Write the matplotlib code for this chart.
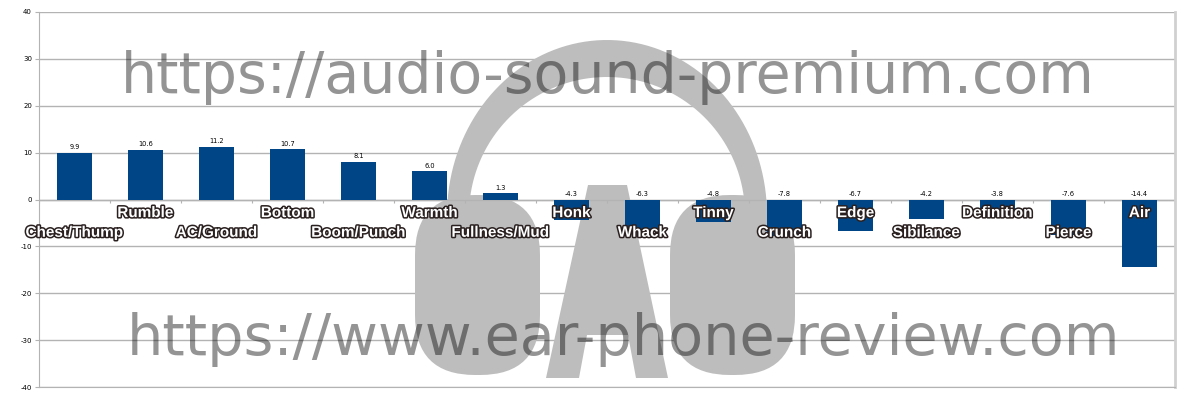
import matplotlib
matplotlib.use("Agg")
import matplotlib.pyplot as plt
import matplotlib.patheffects as pe
from matplotlib.transforms import Affine2D
from matplotlib.patches import PathPatch, FancyBboxPatch
from matplotlib.path import Path
import numpy as np

categories = ["Chest/Thump", "Rumble", "AC/Ground", "Bottom", "Boom/Punch", "Warmth",
              "Fullness/Mud", "Honk", "Whack", "Tinny", "Crunch", "Edge", "Sibilance",
              "Definition", "Pierce", "Air"]
values = [9.9, 10.6, 11.2, 10.7, 8.1, 6.0, 1.3, -4.3, -6.3, -4.8, -7.8, -6.7, -4.2, -3.8, -7.6, -14.4]
yticks = [-40, -30, -20, -10, 0, 10, 20, 30, 40]
watermark_top = "https://audio-sound-premium.com"
watermark_bottom = "https://www.ear-phone-review.com"

W, H = 1200, 400
fig = plt.figure(figsize=(12, 4), dpi=100)
ax = fig.add_axes([39 / W, 13 / H, (1175 - 39) / W, (388 - 13) / H])

x = np.arange(len(categories))
ax.set_xlim(-0.5, len(categories) - 0.5)
ax.set_ylim(-40, 40)
ax.set_yticks(yticks)
ax.set_yticklabels([str(v) for v in yticks], fontsize=5)
ax.tick_params(axis="y", length=3, width=0.8, color="#b3b3b3", pad=2)
ax.set_xticks([])
ax.grid(axis="y", color="#b3b3b3", linewidth=1, zorder=0)
ax.set_axisbelow(True)
ax.spines["top"].set_visible(False)
ax.spines["left"].set_color("#b3b3b3")
ax.spines["bottom"].set_color("#b3b3b3")
ax.spines["right"].set_color("#d0d0d0")
ax.spines["right"].set_linewidth(2)

# zero line and boundary ticks
ax.axhline(0, color="#b3b3b3", linewidth=1, zorder=2)
ax.vlines(np.arange(len(categories) + 1) - 0.5, -0.7, 0, color="#b3b3b3", linewidth=0.8, zorder=2)

# watermark in pixel coordinates (top-left origin)
T = Affine2D().scale(1, -1).translate(0, H)
logo_kw = dict(facecolor="#bdbdbd", edgecolor="none", transform=T, zorder=1.5, clip_on=False)

# headband (elliptic annulus, upper part)
th = np.linspace(np.pi, 0, 80)
cx, cy = 607, 215
ox, oy = 160, 175
ix, iy = 138, 138
outer = [(cx + ox * np.cos(t), cy - oy * np.sin(t)) for t in th]
inner = [(cx + ix * np.cos(t), cy - iy * np.sin(t)) for t in th[::-1]]
band_pts = outer + [(cx + ox, cy + 25), (cx + ix, cy + 25)] + inner + [(cx - ix, cy + 25), (cx - ox, cy + 25), outer[0]]
codes = [Path.MOVETO] + [Path.LINETO] * (len(band_pts) - 2) + [Path.CLOSEPOLY]
ax.add_patch(PathPatch(Path(band_pts, codes), **logo_kw))

# ear cups
ax.add_patch(FancyBboxPatch((430, 210), 95, 150, boxstyle="round,pad=15,rounding_size=60", **logo_kw))
ax.add_patch(FancyBboxPatch((685, 210), 95, 150, boxstyle="round,pad=15,rounding_size=60", **logo_kw))

# letter A
outerA = [(588, 185), (627, 185), (668, 378), (636, 378), (628, 335), (587, 335), (579, 378), (546, 378), (588, 185)]
counter = [(607, 222), (626, 300), (589, 300), (607, 222)]
vertsA = outerA + counter
codesA = ([Path.MOVETO] + [Path.LINETO] * (len(outerA) - 2) + [Path.CLOSEPOLY] +
          [Path.MOVETO] + [Path.LINETO] * (len(counter) - 2) + [Path.CLOSEPOLY])
ax.add_patch(PathPatch(Path(vertsA, codesA), **logo_kw))

ax.text(608, 93, watermark_top, transform=T, ha="center", va="baseline", fontsize=41,
        family="DejaVu Sans", color="black", alpha=0.42, zorder=1.6, clip_on=False)
ax.text(623, 355, watermark_bottom, transform=T, ha="center", va="baseline", fontsize=41.2,
        family="DejaVu Sans", color="black", alpha=0.42, zorder=1.6, clip_on=False)

# bars
ax.bar(x, values, width=0.5, color="#004586", zorder=3)

# value labels
for xi, v in zip(x, values):
    ypos = v + 0.6 if v > 0 else 0.6
    ax.text(xi, ypos, f"{v:.1f}", ha="center", va="bottom", fontsize=4.8, color="black", zorder=4)

# category labels (alternating rows)
for xi, c in zip(x, categories):
    yy = -7.1 if xi % 2 == 0 else -2.9
    ax.text(xi, yy, c, ha="center", va="center", fontsize=11, family="Liberation Sans",
            fontweight="bold", color="white", zorder=5,
            path_effects=[pe.withStroke(linewidth=2.2, foreground="#2a2020")])

fig.savefig("out.png", dpi=100)
